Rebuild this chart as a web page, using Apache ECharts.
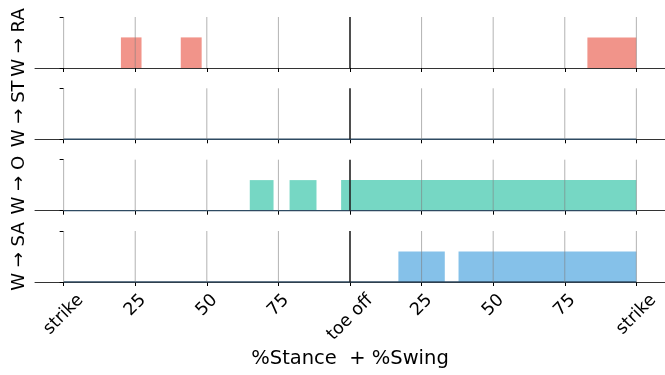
<!DOCTYPE html>
<html>
<head>
<meta charset="utf-8">
<script src="https://cdn.jsdelivr.net/npm/echarts@6/dist/echarts.min.js"></script>
<style>
  html, body { margin: 0; padding: 0; background: #fff; }
  #chart { width: 665px; height: 375px; }
</style>
</head>
<body>
<div id="chart"></div>
<script>
// Gait-cycle axis: 0 = heel strike, 100 = toe off, 200 = next strike
const xTicks = [0, 25, 50, 75, 100, 125, 150, 175, 200];
const xTickLabels = ['strike', '25', '50', '75', 'toe off', '25', '50', '75', 'strike'];
const toeOff = 100;
const xTitle = '%Stance  + %Swing';

// One row per transition
const panelLabels = ['W → RA', 'W → ST', 'W → O', 'W → SA'];
const activeLevel = 0.6;
const raIntervals = [[20.0, 27.2], [40.9, 48.2], [182.9, 200]];
const stIntervals = [];
const oIntervals = [[65.0, 73.3], [78.9, 88.3], [96.9, 200]];
const saIntervals = [[116.9, 133.1], [137.9, 200]];
const cycleSpan = [0, 200];

const panelIntervals = [raIntervals, stIntervals, oIntervals, saIntervals];
const panelColors = ['#F1948A', '#F7DC6F', '#76D7C4', '#85C1E9'];

const FONT = '"DejaVu Sans", sans-serif';
const TICK_FS = 17.5;
const TITLE_FS = 19.5;
const ROW_FS = 18;
const gridTops = [17, 88.3, 159.7, 231];
const gridHeight = 51;

// Tick labels are rotated 45deg and centred under their tick with aligned tops;
// each label is nudged along its own frame using rich-text padding.
const measure = document.createElement('canvas').getContext('2d');
measure.font = TICK_FS + 'px ' + FONT;
const rich = {};
xTickLabels.forEach((t, i) => {
  const w = measure.measureText(t).width;
  const s = 15.5 + 0.354 * w;       // downward shift of the label centre
  const p = 1.414 * s;
  rich['L' + i] = {
    fontSize: TICK_FS, fontFamily: FONT, color: '#000',
    padding: [p, p, 0, 0]
  };
});

const chart = echarts.init(document.getElementById('chart'), null, { renderer: 'canvas' });

const grids = [], xAxes = [], yAxes = [], series = [];
panelLabels.forEach((name, k) => {
  const last = k === panelLabels.length - 1;
  grids.push({ left: 35, width: 631, top: gridTops[k], height: gridHeight });
  xAxes.push({
    gridIndex: k, type: 'value', min: -10, max: 210,
    splitLine: { show: false },
    axisLine: { show: true, onZero: false, lineStyle: { color: '#333', width: 1 } },
    axisTick: { show: true, customValues: xTicks, length: 4, lineStyle: { color: '#000', width: 1 } },
    axisLabel: last ? {
      show: true, customValues: xTicks, rotate: 45, margin: 0,
      align: 'center', verticalAlign: 'middle',
      formatter: (v) => { const i = xTicks.indexOf(v); return '{L' + i + '|' + xTickLabels[i] + '}'; },
      rich: rich
    } : { show: false },
    name: last ? xTitle : '',
    nameLocation: 'middle', nameGap: 67,
    nameTextStyle: { fontSize: TITLE_FS, fontFamily: FONT, color: '#000' }
  });
  yAxes.push({
    gridIndex: k, type: 'value', min: 0, max: 1, interval: 1,
    axisLine: { show: false },
    axisTick: { show: true, length: 4, lineStyle: { color: '#000', width: 1 } },
    axisLabel: { show: false },
    splitLine: { show: false },
    name: name, nameLocation: 'middle', nameRotate: 90, nameGap: 7,
    nameTextStyle: { fontSize: ROW_FS, fontFamily: FONT, color: '#000' }
  });

  // active intervals as filled spans
  const color = panelColors[k];
  series.push({
    type: 'custom', xAxisIndex: k, yAxisIndex: k, z: 2, silent: true,
    encode: { x: [0, 1], y: 2 },
    data: panelIntervals[k].map(([a, b]) => [a, b, activeLevel]),
    renderItem: (params, api) => {
      const p0 = api.coord([api.value(0), api.value(2)]);
      const p1 = api.coord([api.value(1), 0]);
      return {
        type: 'rect',
        shape: { x: p0[0], y: p0[1], width: p1[0] - p0[0], height: p1[1] - p0[1] },
        style: { fill: color }
      };
    }
  });

  // baseline across the cycle
  if (k > 0) {
    series.push({
      type: 'line', xAxisIndex: k, yAxisIndex: k, z: 3, silent: true,
      symbol: 'none', data: cycleSpan.map(v => [v, 0]),
      lineStyle: { color: '#2E4A62', width: 1.5 }
    });
  }

  // vertical gridlines, toe off drawn in black
  series.push({
    type: 'custom', xAxisIndex: k, yAxisIndex: k, z: 4, silent: true,
    encode: { x: 0, y: 1 },
    data: xTicks.map(v => [v, 0]),
    renderItem: (params, api) => {
      const v = api.value(0);
      const a = api.coord([v, 1]);
      const b = api.coord([v, 0]);
      const toe = v === toeOff;
      return {
        type: 'line',
        shape: { x1: a[0], y1: a[1], x2: b[0], y2: b[1] },
        style: { stroke: toe ? '#222' : 'rgba(128,128,128,0.6)', lineWidth: toe ? 1.6 : 1 }
      };
    }
  });
});

chart.setOption({
  animation: false,
  backgroundColor: '#fff',
  grid: grids,
  xAxis: xAxes,
  yAxis: yAxes,
  series: series
});
</script>
</body>
</html>
